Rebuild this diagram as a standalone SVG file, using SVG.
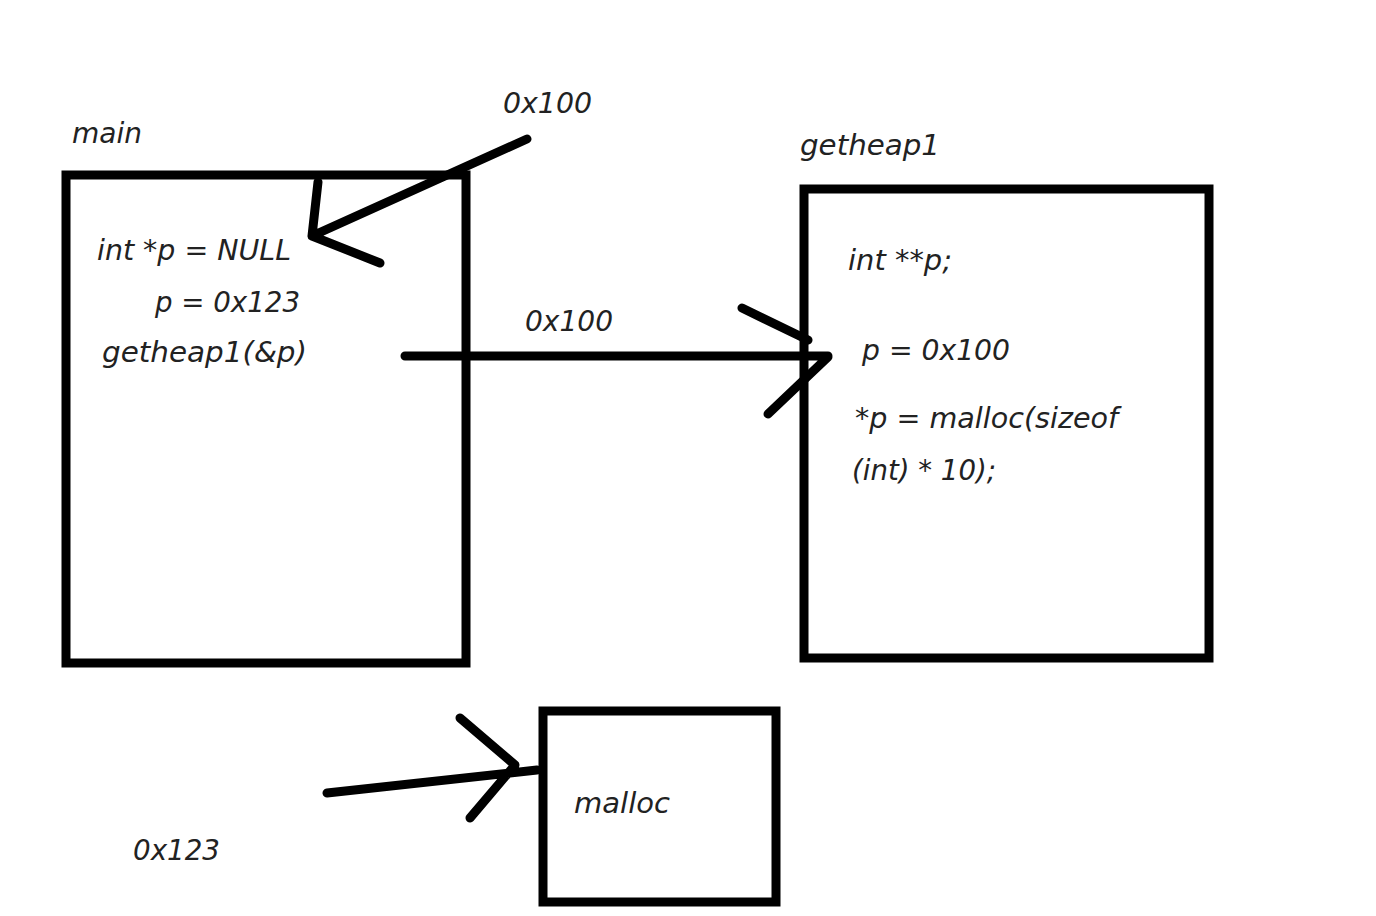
<svg xmlns="http://www.w3.org/2000/svg" width="1376" height="916" viewBox="0 0 1376 916">
<style>
.box{fill:none;stroke:#000;stroke-width:9}
.ln{fill:none;stroke:#000;stroke-width:9;stroke-linecap:round;stroke-linejoin:round}
text{font-family:"DejaVu Sans","Open Sans",sans-serif;font-style:italic;font-size:28px;fill:#222}
</style>
<rect width="1376" height="916" fill="#fff"/>
<g id="main">
<rect class="box" x="66" y="175" width="400" height="488"/>
<text x="72" y="143" textLength="70" lengthAdjust="spacingAndGlyphs">main</text>
<text x="97" y="260" textLength="194" lengthAdjust="spacingAndGlyphs">int *p = NULL</text>
<text x="155" y="312" textLength="145" lengthAdjust="spacingAndGlyphs">p = 0x123</text>
<text x="102" y="362" textLength="205" lengthAdjust="spacingAndGlyphs">getheap1(&amp;p)</text>
</g>
<g id="getheap1">
<rect class="box" x="804" y="189" width="405" height="469"/>
<text x="800" y="155" textLength="140" lengthAdjust="spacingAndGlyphs">getheap1</text>
<text x="848" y="270" textLength="104" lengthAdjust="spacingAndGlyphs">int **p;</text>
<text x="862" y="360" textLength="148" lengthAdjust="spacingAndGlyphs">p = 0x100</text>
<text x="855" y="428" textLength="263" lengthAdjust="spacingAndGlyphs">*p = malloc(sizeof</text>
<text x="852" y="480" textLength="144" lengthAdjust="spacingAndGlyphs">(int) * 10);</text>
</g>
<g id="malloc">
<rect class="box" x="543" y="711" width="233" height="191"/>
<text x="574" y="813" textLength="96" lengthAdjust="spacingAndGlyphs">malloc</text>
</g>
<g id="labels">
<text x="503" y="113" textLength="89" lengthAdjust="spacingAndGlyphs">0x100</text>
<text x="525" y="331" textLength="88" lengthAdjust="spacingAndGlyphs">0x100</text>
<text x="133" y="860" textLength="87" lengthAdjust="spacingAndGlyphs">0x123</text>
</g>
<g id="connectors">
<path class="ln" d="M527,139 L312,236 M318,182 L312,236 L380,263"/>
<path class="ln" d="M405,356 L828,356 M742,308 L808,340 M828,357 L768,414"/>
<path class="ln" d="M327,793 L537,770 M460,718 L515,765 L470,818"/>
</g>
</svg>
